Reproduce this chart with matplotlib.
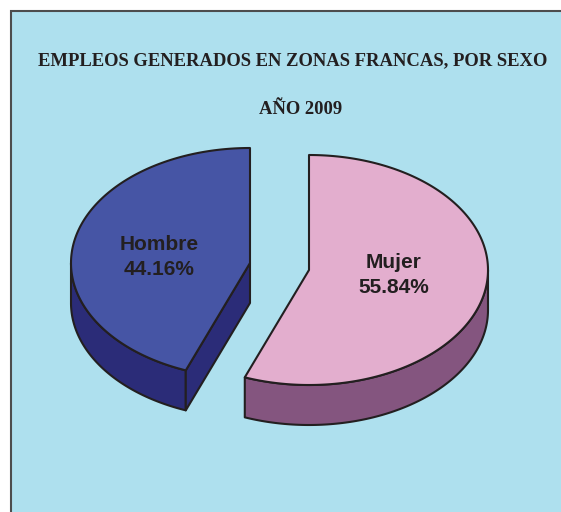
import numpy as np
import matplotlib
matplotlib.use("Agg")
import matplotlib.pyplot as plt
from matplotlib.patches import Polygon, Rectangle

title_lines = ["EMPLEOS GENERADOS EN ZONAS FRANCAS, POR SEXO", "AÑO 2009"]
categories = ["Mujer", "Hombre"]
values = [55.84, 44.16]
top_colors = ["#E3AECE", "#4655A5"]
side_colors = ["#84557F", "#2B2C78"]
centers = [(309, 270), (250, 263)]

RX, RY, DEPTH = 179, 115, 40
EDGE = "#231F20"

fig = plt.figure(figsize=(5.61, 5.12), dpi=100, facecolor="white")
ax = fig.add_axes([0, 0, 1, 1])
ax.set_xlim(0, 561)
ax.set_ylim(512, 0)
ax.axis("off")

ax.add_patch(Rectangle((11, 11), 600, 600, facecolor="#AEE0EE", edgecolor="#4D4D4D", lw=1.5))


def pt(c, t, dz=0):
    t = np.radians(t)
    return np.column_stack([c[0] + RX * np.sin(t), c[1] - RY * np.cos(t) + dz])


def poly(pts, color):
    ax.add_patch(Polygon(pts, closed=True, facecolor=color, edgecolor=EDGE, lw=1.5, joinstyle="round"))


split = 360 * values[0] / 100

# Mujer: clockwise from 12 o'clock
c = centers[0]
t = np.linspace(90, split, 120)
poly(np.vstack([pt(c, t), pt(c, t[::-1], DEPTH)]), side_colors[0])
t = np.linspace(0, split, 240)
poly(np.vstack([[c], pt(c, t)]), top_colors[0])

# Hombre: rest of the circle
c = centers[1]
t = np.linspace(split, 270, 120)
poly(np.vstack([pt(c, t), pt(c, t[::-1], DEPTH)]), side_colors[1])
edge_pt = pt(c, np.array([split]))[0]
poly([c, edge_pt, edge_pt + [0, DEPTH], (c[0], c[1] + DEPTH)], side_colors[1])
t = np.linspace(split, 360, 240)
poly(np.vstack([[c], pt(c, t)]), top_colors[1])

serif = "Liberation Serif"
ax.text(293, 61, title_lines[0], ha="center", va="center", family=serif, weight="bold", fontsize=13.45, color="#231F20")
ax.text(301, 110, title_lines[1], ha="center", va="center", family=serif, weight="bold", fontsize=13.45, color="#231F20")

sans = "Liberation Sans"
ax.text(394, 275, f"{categories[0]}\n{values[0]:.2f}%", ha="center", va="center", family=sans,
        weight="bold", fontsize=15, color="#231F20", linespacing=1.45)
ax.text(159, 257, f"{categories[1]}\n{values[1]:.2f}%", ha="center", va="center", family=sans,
        weight="bold", fontsize=15, color="#231F20", linespacing=1.45)

fig.savefig("out.png", dpi=100, facecolor="white")
